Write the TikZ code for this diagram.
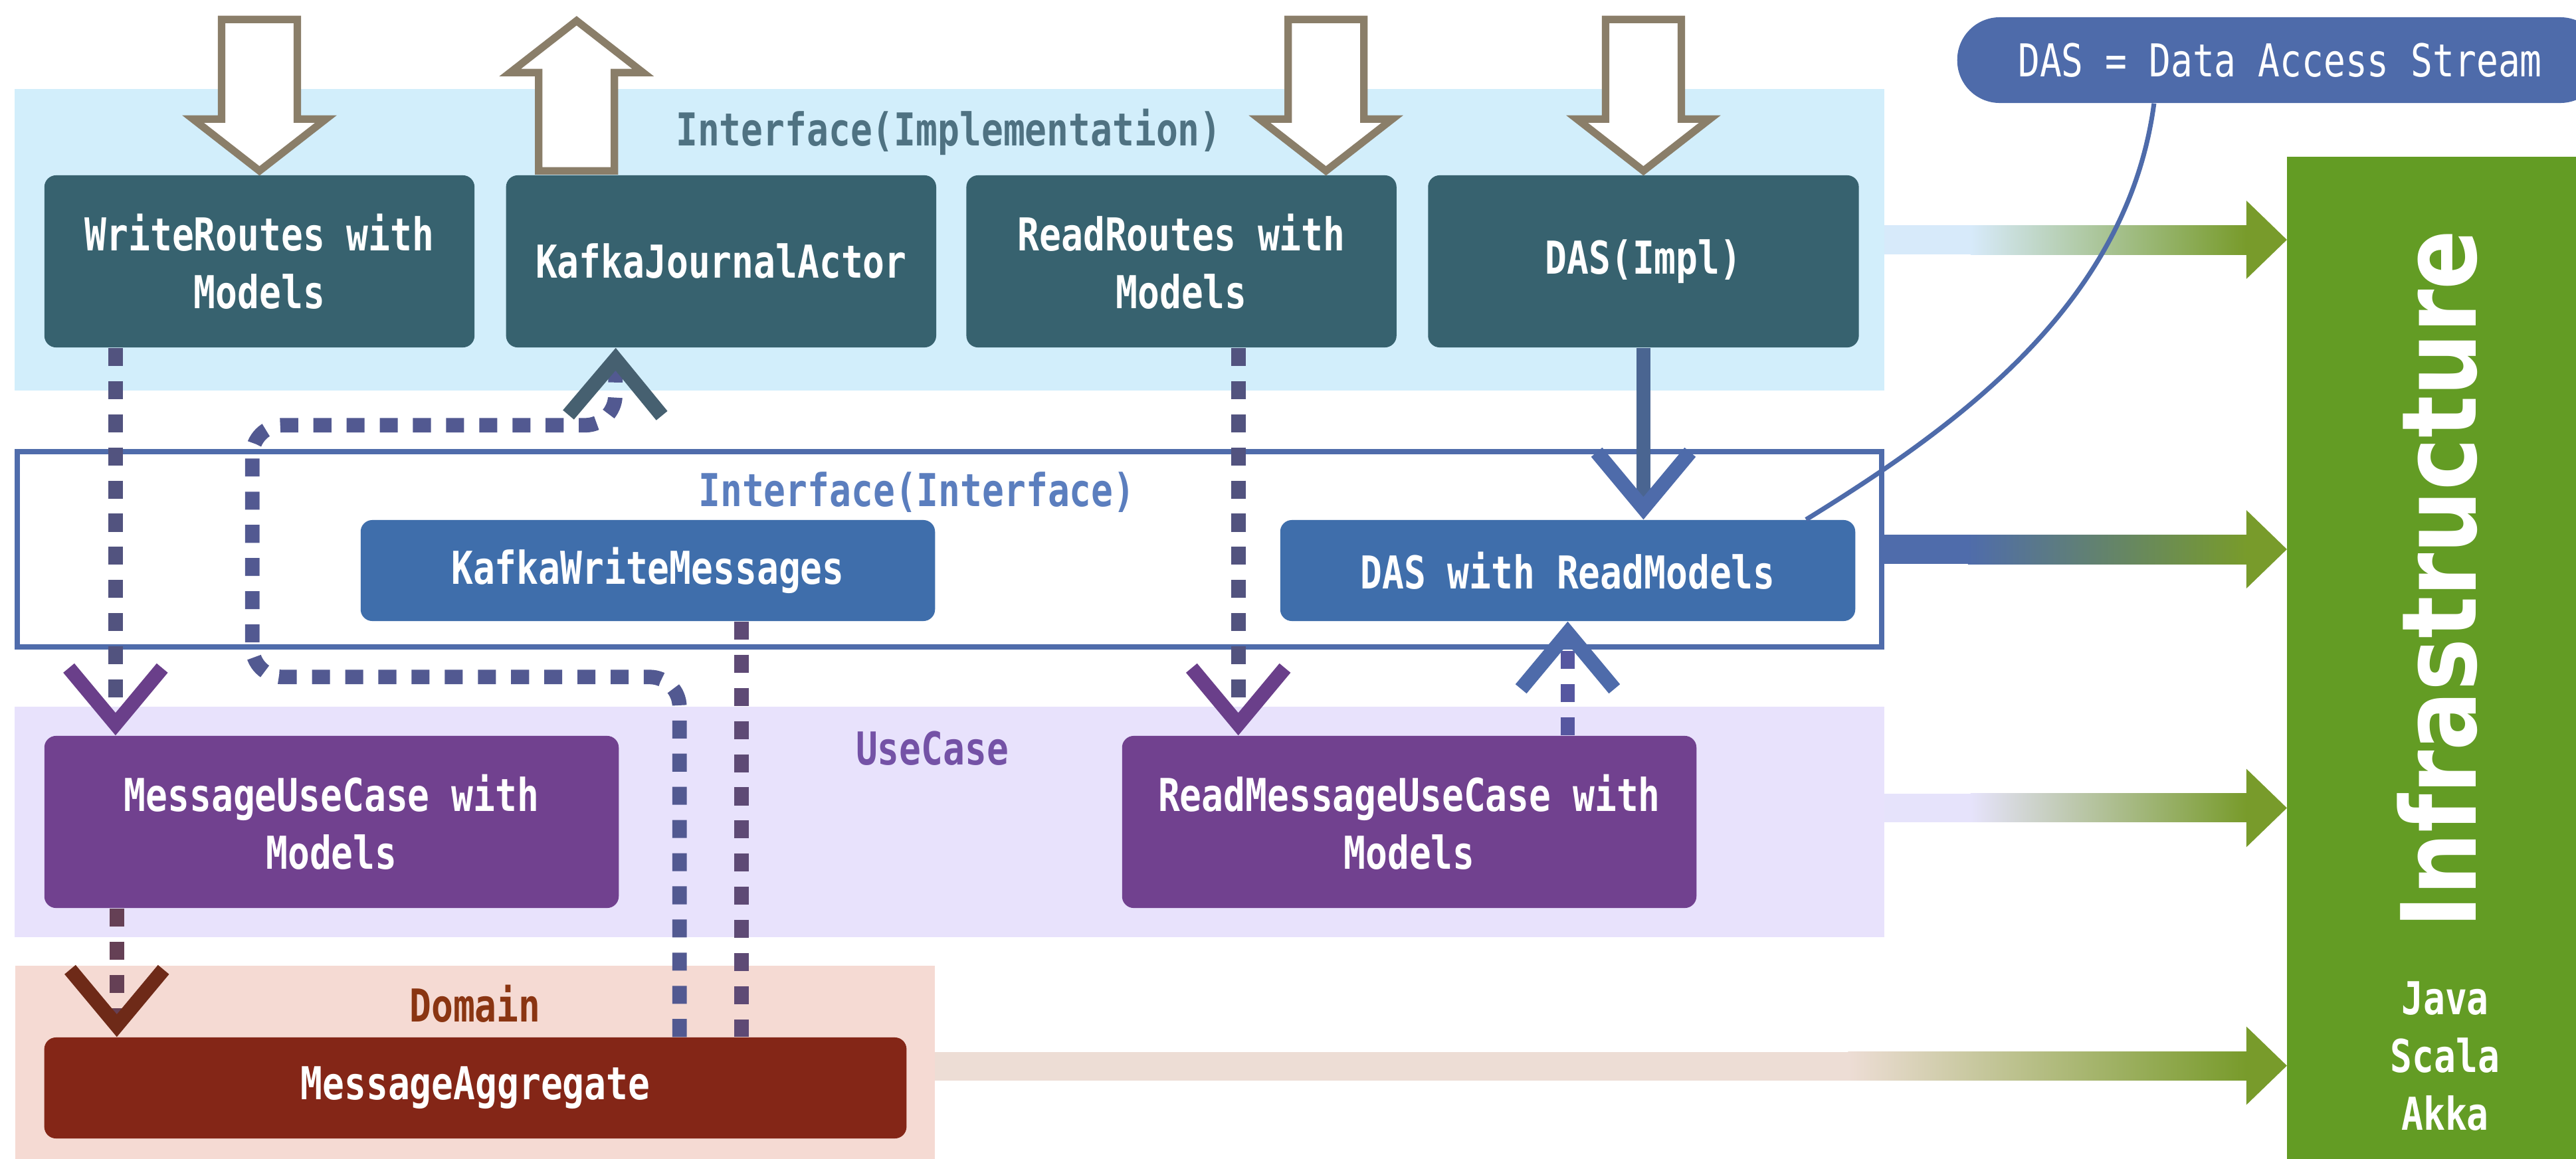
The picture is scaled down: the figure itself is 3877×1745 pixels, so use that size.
\documentclass[tikz,border=0pt]{standalone}
\usepackage{fontspec}
\usepackage{tikz}
\usetikzlibrary{arrows.meta, calc, positioning}
\newfontfamily\labelfont[FakeStretch=0.8]{DejaVu Sans Mono}
\newfontfamily\infrafont[FakeStretch=0.85]{DejaVu Sans}

\definecolor{implbg}{HTML}{D2EEFB}
\definecolor{implfade}{HTML}{D7EAFA}
\definecolor{tealbox}{HTML}{37626F}
\definecolor{hollowline}{HTML}{8A7E69}
\definecolor{impltxt}{HTML}{4F7282}
\definecolor{ifline}{HTML}{4F6CAB}
\definecolor{ifbox}{HTML}{3F6EAB}
\definecolor{iftxt}{HTML}{5B7EBE}
\definecolor{ucbg}{HTML}{E8E2FC}
\definecolor{ucfade}{HTML}{E6E3FB}
\definecolor{ucbox}{HTML}{71418F}
\definecolor{uctxt}{HTML}{7452A6}
\definecolor{dombg}{HTML}{F5DAD3}
\definecolor{domfade}{HTML}{EDDDD5}
\definecolor{dombox}{HTML}{842617}
\definecolor{domtxt}{HTML}{8A3512}
\definecolor{infragreen}{HTML}{639C24}
\definecolor{arrowgreen}{HTML}{789B2B}
\definecolor{dasnote}{HTML}{4E6BAA}
\definecolor{writeline}{HTML}{52537F}
\definecolor{purplehead}{HTML}{6A3F8A}
\definecolor{domline}{HTML}{654055}
\definecolor{domhead}{HTML}{6E2A18}
\definecolor{readline}{HTML}{5657A0}
\definecolor{dasline}{HTML}{4A6591}
\definecolor{kwmline}{HTML}{5E4A75}
\definecolor{loopline}{HTML}{525991}
\definecolor{loophead}{HTML}{466070}

\tikzset{
  layerband/.style={inner sep=0pt, outer sep=0pt},
  layerbox/.style={rounded corners=5pt, inner sep=0pt, text=white, align=center,
    font=\labelfont\bfseries\fontsize{19.4}{24.8}\selectfont},
  topbox/.style={layerbox, fill=tealbox, minimum width=6.47cm, minimum height=2.59cm},
  bandtitle/.style={anchor=base, inner sep=0pt,
    font=\labelfont\bfseries\fontsize{19.4}{24.8}\selectfont},
  hollow/.style={draw=hollowline, fill=white, line width=3.2pt, line join=miter},
  dashconn/.style={line width=6.2pt, dash pattern=on 7.7pt off 6.5pt},
}

\begin{document}
\begin{tikzpicture}[x=0.01cm, y=-0.01cm]
\useasboundingbox (0,0) rectangle (3877,1745);
\clip (0,0) rectangle (3877,1745);

% layers
\node[layerband, fill=implbg, minimum width=28.12cm, minimum height=4.54cm] (implband) at (1429,361) {};
\node[layerband, draw=ifline, line width=2.4pt, fill=white, minimum width=28.04cm, minimum height=2.94cm] (ifband) at (1429,827) {};
\node[layerband, fill=ucbg, minimum width=28.12cm, minimum height=3.47cm] (ucband) at (1429,1237.5) {};
\node[layerband, fill=dombg, minimum width=13.84cm, minimum height=2.91cm] (domband) at (715,1599.5) {};

\node[bandtitle, text=impltxt] (impltitle) at (1428,219) {Interface(Implementation)};
\node[bandtitle, text=iftxt] (iftitle) at (1380,762) {Interface(Interface)};
\node[bandtitle, text=uctxt] (uctitle) at (1403,1151) {UseCase};
\node[bandtitle, text=domtxt] (domtitle) at (715,1538) {Domain};

% boxes
\node[topbox] (wr) at (390.5,393.5) {WriteRoutes with\\Models};
\node[topbox, right=0.46cm of wr] (kja) {KafkaJournalActor};
\node[topbox, right=0.44cm of kja] (rr) {ReadRoutes with\\Models};
\node[topbox, minimum width=6.48cm, right=0.46cm of rr] (das) {DAS(Impl)};

\node[layerbox, fill=ifbox, minimum width=8.64cm, minimum height=1.52cm] (kwm) at (975,859) {KafkaWriteMessages};
\node[layerbox, fill=ifbox, minimum width=8.65cm, minimum height=1.52cm] (dasrm) at (2359.5,859) {DAS with ReadModels};

\node[layerbox, fill=ucbox, minimum width=8.64cm, minimum height=2.59cm] (muc) at (499,1237.5) {MessageUseCase with\\Models};
\node[layerbox, fill=ucbox, minimum width=8.64cm, minimum height=2.59cm] (rmuc) at (2121,1237.5) {ReadMessageUseCase with\\Models};

\node[layerbox, fill=dombox, minimum width=12.97cm, minimum height=1.52cm] (agg) at (715.5,1638) {MessageAggregate};

% infrastructure
\node[layerband, fill=infragreen, minimum width=4.35cm, minimum height=15.09cm] (infra) at (3659.5,990.5) {};
\node[rotate=90, anchor=base, inner sep=0pt, text=white,
  font=\infrafont\bfseries\fontsize{44.4}{50}\selectfont] (infratxt) at (3726,872) {Infrastructure};
\node[layerbox, fill=none] (langs) at (3680,1590) {Java\\Scala\\Akka};

% outside requests
\draw[hollow] ($(wr.north)+(0,-6)$) -- ++(-100,-78) -- ++(43,0) -- ++(0,-150) -- ++(114,0) -- ++(0,150) -- ++(43,0) -- cycle;
\draw[hollow] ($(kja.north)+(-217.5,-6)$) -- ++(-57,0) -- ++(0,-148) -- ++(-43,0) -- ++(100,-78) -- ++(100,78) -- ++(-43,0) -- ++(0,148) -- cycle;
\draw[hollow] ($(rr.north)+(217.5,-6)$) -- ++(-100,-78) -- ++(43,0) -- ++(0,-150) -- ++(114,0) -- ++(0,150) -- ++(43,0) -- cycle;
\draw[hollow] ($(das.north)+(0,-6)$) -- ++(-100,-78) -- ++(43,0) -- ++(0,-150) -- ++(114,0) -- ++(0,150) -- ++(43,0) -- cycle;

% arrows into infrastructure
\fill[implfade] ($(implband.east)+(0,-22)$) rectangle ($(implband.east)+(131,22)$);
\shade[left color=implfade, right color=arrowgreen] ($(implband.east)+(130,-22)$) rectangle ($(infra.west |- implband.east)+(-61,22)$);
\fill[arrowgreen] ($(infra.west |- implband.east)+(-61,-59)$) -- (infra.west |- implband.east) -- ($(infra.west |- implband.east)+(-61,59)$) -- cycle;

\fill[ifline] ($(ifband.east)+(0,-22)$) rectangle ($(ifband.east)+(131,22)$);
\shade[left color=ifline, right color=arrowgreen] ($(ifband.east)+(130,-22)$) rectangle ($(infra.west |- ifband.east)+(-61,22)$);
\fill[arrowgreen] ($(infra.west |- ifband.east)+(-61,-59)$) -- (infra.west |- ifband.east) -- ($(infra.west |- ifband.east)+(-61,59)$) -- cycle;

\fill[ucfade] ($(ucband.east)+(0,-43)$) rectangle ($(ucband.east)+(131,0)$);
\shade[left color=ucfade, right color=arrowgreen] ($(ucband.east)+(130,-43)$) rectangle ($(infra.west |- ucband.east)+(-61,0)$);
\fill[arrowgreen] ($(infra.west |- ucband.east)+(-61,-80)$) -- ($(infra.west |- ucband.east)+(0,-21)$) -- ($(infra.west |- ucband.east)+(-61,38)$) -- cycle;

\fill[domfade] ($(domband.east)+(0,-16)$) rectangle ($(domband.east)+(1375,27)$);
\shade[left color=domfade, right color=arrowgreen] ($(domband.east)+(1374,-16)$) rectangle ($(infra.west |- domband.east)+(-61,27)$);
\fill[arrowgreen] ($(infra.west |- domband.east)+(-61,-54)$) -- ($(infra.west |- domband.east)+(0,5)$) -- ($(infra.west |- domband.east)+(-61,64)$) -- cycle;

% dependencies
\draw[dashconn, writeline, -{Straight Barb[length=24pt, width=40pt, color=purplehead]}]
  ([xshift=-2.165cm]wr.south) -- ([xshift=-2.165cm]wr.south |- muc.north);
\draw[dashconn, domline, -{Straight Barb[length=24pt, width=40pt, color=domhead]}]
  ([xshift=-3.23cm]muc.south) -- ([xshift=-3.23cm]muc.south |- agg.north);
\draw[dashconn, writeline, -{Straight Barb[length=24pt, width=40pt, color=purplehead]}]
  ([xshift=0.855cm]rr.south) -- ([xshift=0.855cm]rr.south |- rmuc.north);
\draw[line width=6.2pt, dasline, -{Straight Barb[length=24pt, width=40pt, color=dasnote]}]
  (das.south) -- (das.south |- dasrm.north);
\draw[dashconn, readline, -{Straight Barb[length=24pt, width=40pt, color=dasnote]}]
  (rmuc.north -| dasrm.south) -- (dasrm.south);
\draw[dashconn, kwmline] ([xshift=1.41cm]kwm.south) -- ([xshift=1.41cm]kwm.south |- agg.north);
\draw[dashconn, loopline, rounded corners=0.45cm, -{Straight Barb[length=24pt, width=40pt, color=loophead]}]
  ([xshift=3.07cm]agg.north) -- ++(0,-542) -- ++(-643,0) -- ++(0,-379) -- ++(546,0) -- ([xshift=-1.585cm]kja.south);

% note
\node[fill=dasnote, rounded corners=0.64cm, minimum width=9.71cm, minimum height=1.29cm, inner sep=0pt, text=white,
  font=\labelfont\fontsize{19.4}{24.8}\selectfont] (note) at (3431.5,90.5) {DAS = Data Access Stream};
\draw[dasnote, line width=2pt] ([xshift=-1.895cm]note.south) .. controls +(-40,300) and +(232,-143) .. ([xshift=3.585cm]dasrm.north);
\end{tikzpicture}
\end{document}
